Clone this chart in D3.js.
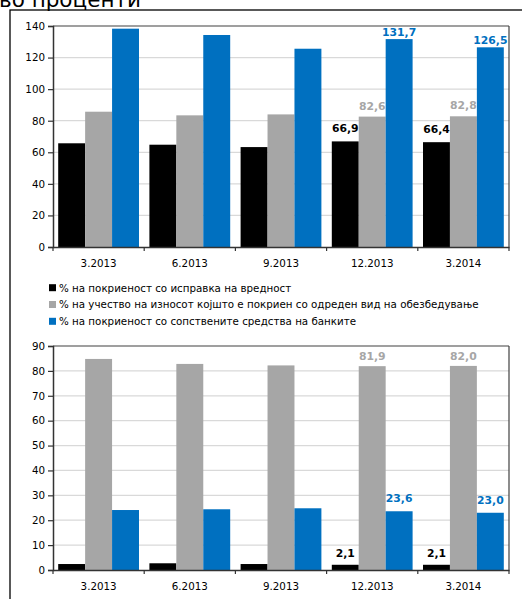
<!DOCTYPE html>
<html><head><meta charset="utf-8">
<script src="https://cdn.jsdelivr.net/npm/d3@7/dist/d3.min.js"></script>
<style>body{margin:0;background:#fff;} svg{display:block;}</style>
</head><body>
<script>
const categories = ["3.2013","6.2013","9.2013","12.2013","3.2014"];
const seriesNames = [
  "% на покриеност со исправка на вредност",
  "% на учество на износот којшто е покриен со одреден вид на обезбедување",
  "% на покриеност со сопствените средства на банките"
];
const seriesColors = ["#000000","#a6a6a6","#0070c0"];
// top chart
const topBlack = [65.7, 64.8, 63.3, 66.9, 66.4];
const topGray  = [85.7, 83.4, 84.0, 82.6, 82.8];
const topBlue  = [138.3, 134.3, 125.6, 131.7, 126.5];
const topTicks = [0,20,40,60,80,100,120,140];
// bottom chart
const botBlack = [2.4, 2.7, 2.4, 2.1, 2.1];
const botGray  = [84.8, 82.8, 82.2, 81.9, 82.0];
const botBlue  = [24.1, 24.4, 24.8, 23.6, 23.0];
const botTicks = [0,10,20,30,40,50,60,70,80,90];
// labelled categories
const labelled = ["12.2013","3.2014"];
const titleText = "во проценти";

const W = 522, H = 599;
const svg = d3.select("body").append("svg").attr("width", W).attr("height", H);
const FONT = "DejaVu Sans";

svg.append("text").attr("x", -1).attr("y", 7).attr("font-family", FONT)
  .attr("font-size", 21.5).attr("fill", "#000").text(titleText);

// outer box
svg.append("rect").attr("x", 10).attr("y", 10).attr("width", 530).attr("height", 620)
  .attr("fill", "none").attr("stroke", "#000").attr("stroke-width", 1.3);

function fmt(v){ return v.toFixed(1).replace(".", ","); }

function drawChart(cfg){
  const {y0, y1, max, ticks, data, offsets} = cfg;
  const x0 = 53, x1 = 509;
  const g = svg.append("g");
  const x = d3.scaleBand().domain(categories).range([x0, x1]).padding(0);
  const inner = d3.scaleBand().domain([0,1,2]).range([5.2, x.bandwidth()-5.2]).padding(0);
  const y = d3.scaleLinear().domain([0, max]).range([y1, y0]);

  // gridlines
  g.selectAll(".grid").data(ticks.filter(t => t > 0 && t < max)).join("line")
    .attr("x1", x0).attr("x2", x1).attr("y1", d => y(d)).attr("y2", d => y(d))
    .attr("stroke", "#d9d9d9").attr("stroke-width", 1.3);

  // bars
  data.forEach((vals, si) => {
    g.selectAll(null).data(vals.map((v,i)=>({v, c:categories[i]}))).join("rect")
      .attr("x", d => x(d.c) + inner(si)).attr("width", inner.bandwidth())
      .attr("y", d => y(d.v)).attr("height", d => y(0) - y(d.v))
      .attr("fill", seriesColors[si]);
  });

  // plot border top/right
  g.append("line").attr("x1", x0).attr("x2", x1).attr("y1", y0).attr("y2", y0)
    .attr("stroke", "#404040").attr("stroke-width", 1.2);
  g.append("line").attr("x1", x1).attr("x2", x1).attr("y1", y0).attr("y2", y1)
    .attr("stroke", "#404040").attr("stroke-width", 1.2);

  // y axis
  const ya = d3.axisLeft(y).tickValues(ticks).tickSize(5).tickPadding(3).tickFormat(d3.format("d"));
  const yg = g.append("g").attr("transform", `translate(${x0},0)`).call(ya);
  yg.select(".domain").attr("stroke", "#333").attr("stroke-width", 1.5);
  yg.selectAll(".tick line").attr("stroke", "#333").attr("stroke-width", 1.2);
  yg.selectAll("text").attr("font-family", FONT).attr("font-size", 10.3).attr("fill", "#000");

  // x axis
  const xa = d3.axisBottom(x).tickSize(0).tickPadding(13);
  const xg = g.append("g").attr("transform", `translate(0,${y1})`).call(xa);
  xg.select(".domain").attr("stroke", "#333").attr("stroke-width", 1.5);
  xg.selectAll("text").attr("font-family", FONT).attr("font-size", 10.3).attr("fill", "#000");
  // boundary ticks
  const bounds = categories.map(c => x(c)).concat([x1]);
  g.selectAll(null).data(bounds).join("line")
    .attr("x1", d => d).attr("x2", d => d).attr("y1", y1).attr("y2", y1 + 4)
    .attr("stroke", "#333").attr("stroke-width", 1.2);

  // labels
  data.forEach((vals, si) => {
    vals.forEach((v, i) => {
      if (!labelled.includes(categories[i])) return;
      g.append("text")
        .attr("x", x(categories[i]) + inner(si) + inner.bandwidth()/2)
        .attr("y", y(v) - offsets[si])
        .attr("text-anchor", "middle").attr("font-family", FONT)
        .attr("font-weight", "bold").attr("font-size", 10.8)
        .attr("fill", seriesColors[si]).text(fmt(v));
    });
  });
}

drawChart({y0: 26, y1: 247, max: 140, ticks: topTicks,
  data: [topBlack, topGray, topBlue], offsets: [9, 7, 3]});
drawChart({y0: 346, y1: 570, max: 90, ticks: botTicks,
  data: [botBlack, botGray, botBlue], offsets: [8, 6, 9]});

// legend
const leg = svg.append("g");
seriesNames.forEach((n, i) => {
  const cy = 287.7 + i * 16.8;
  leg.append("rect").attr("x", 49).attr("y", cy - 3.5).attr("width", 7).attr("height", 7)
    .attr("fill", seriesColors[i]);
  leg.append("text").attr("x", 59).attr("y", cy + 3.8).attr("font-family", FONT)
    .attr("font-size", 10.3).attr("fill", "#000").text(n);
});
</script>
</body></html>
